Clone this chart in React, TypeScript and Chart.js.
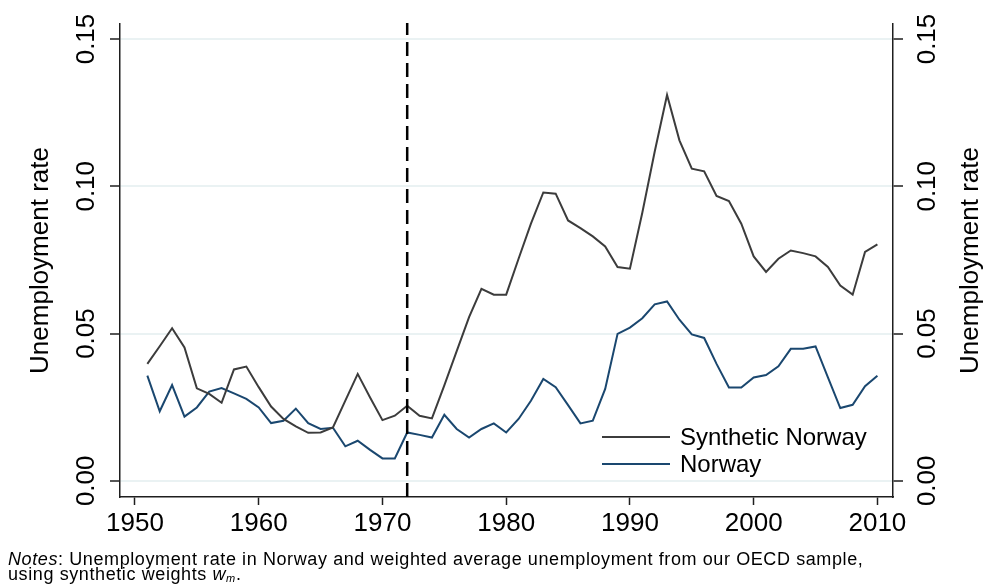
import React, { useEffect, useRef } from "react";
import { Chart, registerables } from "chart.js";

Chart.register(...registerables);

const years = [
  1951, 1952, 1953, 1954, 1955, 1956, 1957, 1958, 1959, 1960,
  1961, 1962, 1963, 1964, 1965, 1966, 1967, 1968, 1969, 1970,
  1971, 1972, 1973, 1974, 1975, 1976, 1977, 1978, 1979, 1980,
  1981, 1982, 1983, 1984, 1985, 1986, 1987, 1988, 1989, 1990,
  1991, 1992, 1993, 1994, 1995, 1996, 1997, 1998, 1999, 2000,
  2001, 2002, 2003, 2004, 2005, 2006, 2007, 2008, 2009, 2010,
];

const syntheticNorway = [
  0.0397, 0.0457, 0.0518, 0.0453, 0.0314, 0.0295, 0.0265, 0.0378, 0.0388, 0.0318,
  0.0252, 0.021, 0.0185, 0.0163, 0.0164, 0.0181, 0.0272, 0.0363, 0.0283, 0.0206,
  0.0221, 0.0255, 0.0221, 0.0212, 0.0324, 0.044, 0.0556, 0.0652, 0.0632, 0.0632,
  0.0754, 0.0873, 0.0979, 0.0975, 0.0884, 0.0858, 0.083, 0.0796, 0.0726, 0.072,
  0.091, 0.1117, 0.131, 0.1156, 0.106, 0.1051, 0.0967, 0.095, 0.0873, 0.0762,
  0.0709, 0.0754, 0.0782, 0.0773, 0.0762, 0.0726, 0.0663, 0.0632, 0.0777, 0.0803,
];

const norway = [
  0.0357, 0.0236, 0.0325, 0.0218, 0.0249, 0.0303, 0.0315, 0.0297, 0.0278, 0.0249,
  0.0196, 0.0204, 0.0245, 0.0196, 0.0176, 0.018, 0.0117, 0.0136, 0.0105, 0.0076,
  0.0076, 0.0164, 0.0156, 0.0147, 0.0224, 0.0176, 0.0147, 0.0176, 0.0195, 0.0164,
  0.021, 0.0272, 0.0346, 0.0318, 0.0257, 0.0195, 0.0204, 0.0312, 0.0499, 0.052,
  0.0552, 0.0599, 0.0609, 0.0547, 0.0497, 0.0485, 0.0397, 0.0317, 0.0317, 0.0351,
  0.0359, 0.0389, 0.0448, 0.0448, 0.0456, 0.0351, 0.0247, 0.0258, 0.0321, 0.0357,
];

const seriesLabels = ["Synthetic Norway", "Norway"];
const xTicks = [1950, 1960, 1970, 1980, 1990, 2000, 2010];
const yTicks = [0, 0.05, 0.1, 0.15];
const treatmentYear = 1972;
const yTitle = "Unemployment rate";

const FONT = "'Liberation Sans', Arial, sans-serif";
const AXIS = "#1e1e1e";

const treatmentLine = {
  id: "treatmentLine",
  afterDatasetsDraw(chart: any) {
    const { ctx, chartArea } = chart;
    const px = chart.scales.x.getPixelForValue(treatmentYear);
    ctx.save();
    ctx.strokeStyle = "#000";
    ctx.lineWidth = 2.5;
    ctx.setLineDash([14, 7]);
    ctx.beginPath();
    ctx.moveTo(px, chartArea.bottom);
    ctx.lineTo(px, chartArea.top - 1);
    ctx.stroke();
    ctx.restore();
  },
};

const insetLegend = {
  id: "insetLegend",
  afterDraw(chart: any) {
    const { ctx, chartArea } = chart;
    const x0 = chartArea.left + 482;
    ctx.save();
    ctx.font = `24px ${FONT}`;
    ctx.textBaseline = "middle";
    ctx.textAlign = "left";
    chart.data.datasets.forEach((ds: any, i: number) => {
      const y = chartArea.bottom - 60 + i * 27;
      ctx.strokeStyle = ds.borderColor;
      ctx.lineWidth = 2;
      ctx.beginPath();
      ctx.moveTo(x0, y);
      ctx.lineTo(x0 + 68, y);
      ctx.stroke();
      ctx.fillStyle = "#000";
      ctx.fillText(ds.label, x0 + 78, y + 1);
    });
    ctx.restore();
  },
};

const rightTitle = {
  id: "rightTitle",
  afterDraw(chart: any) {
    const { ctx, chartArea } = chart;
    ctx.save();
    ctx.translate(971, (chartArea.top + chartArea.bottom) / 2);
    ctx.rotate(-Math.PI / 2);
    ctx.font = `26px ${FONT}`;
    ctx.fillStyle = "#000";
    ctx.textAlign = "center";
    ctx.textBaseline = "middle";
    ctx.fillText(yTitle, 0, 0);
    ctx.restore();
  },
};

export default function App() {
  const ref = useRef<HTMLCanvasElement | null>(null);

  useEffect(() => {
    if (!ref.current) return;
    const yScaleBase = (position: "left" | "right") => ({
      type: "linear" as const,
      position,
      min: -0.0055,
      max: 0.1551,
      afterBuildTicks: (s: any) => {
        s.ticks = yTicks.map((v) => ({ value: v }));
      },
      afterFit: (s: any) => {
        s.width = position === "left" ? 120 : 93;
      },
      grid: {
        display: true,
        drawOnChartArea: position === "left",
        drawTicks: true,
        tickLength: 10,
        color: "#eaf2f3",
        lineWidth: 2,
        tickColor: AXIS,
        tickWidth: 1.5,
      },
      border: { display: true, color: AXIS, width: 1.5 },
      ticks: {
        minRotation: 90,
        maxRotation: 90,
        crossAlign: "center" as const,
        padding: position === "left" ? -2 : 0,
        color: "#000",
        font: { family: FONT, size: 26 },
        callback: (v: any) => Number(v).toFixed(2),
      },
      title: {
        display: position === "left",
        text: yTitle,
        color: "#000",
        font: { family: FONT, size: 26 },
        padding: { top: 25, bottom: 0 },
      },
    });

    const chart = new Chart(ref.current, {
      type: "line",
      data: {
        datasets: [
          {
            label: seriesLabels[0],
            data: years.map((yr, i) => ({ x: yr, y: syntheticNorway[i] })),
            borderColor: "#3c3c3c",
            borderWidth: 2,
            pointRadius: 0,
            tension: 0,
            yAxisID: "y",
          },
          {
            label: seriesLabels[1],
            data: years.map((yr, i) => ({ x: yr, y: norway[i] })),
            borderColor: "#1a476f",
            borderWidth: 2,
            pointRadius: 0,
            tension: 0,
            yAxisID: "y",
          },
        ],
      },
      options: {
        animation: false,
        responsive: false,
        devicePixelRatio: 1,
        layout: { padding: { top: 24, left: 0, right: 0, bottom: 0 } },
        plugins: { legend: { display: false }, tooltip: { enabled: false } },
        scales: {
          x: {
            type: "linear",
            min: 1948.79,
            max: 2011.26,
            afterBuildTicks: (s: any) => {
              s.ticks = xTicks.map((v) => ({ value: v }));
            },
            afterFit: (s: any) => {
              s.height = 89;
            },
            grid: {
              display: true,
              drawOnChartArea: false,
              drawTicks: true,
              tickLength: 8,
              tickColor: AXIS,
              tickWidth: 1.5,
            },
            border: { display: true, color: AXIS, width: 1.5 },
            ticks: {
              autoSkip: false,
              maxRotation: 0,
              minRotation: 0,
              padding: 3,
              color: "#000",
              font: { family: FONT, size: 26 },
              callback: (v: any) => String(v),
            },
          },
          y: yScaleBase("left"),
          y2: yScaleBase("right"),
        },
      } as any,
      plugins: [treatmentLine, insetLegend, rightTitle],
    });
    return () => chart.destroy();
  }, []);

  return (
    <div
      style={{
        position: "fixed",
        left: 0,
        top: 0,
        width: 986,
        height: 586,
        background: "#fff",
      }}
    >
      <canvas ref={ref} width={986} height={586} style={{ display: "block" }} />
      <div
        style={{
          position: "absolute",
          left: 8,
          top: 552,
          fontFamily: FONT,
          fontSize: 18,
          lineHeight: "15px",
          letterSpacing: "0.6px",
          color: "#000",
          whiteSpace: "nowrap",
        }}
      >
        <div>
          <i>Notes</i>: Unemployment rate in Norway and weighted average unemployment from our OECD sample,
        </div>
        <div>
          using synthetic weights <i>w</i>
          <sub style={{ fontSize: 11, verticalAlign: "-2px", lineHeight: 0 }}>
            <i>m</i>
          </sub>
          .
        </div>
      </div>
    </div>
  );
}
